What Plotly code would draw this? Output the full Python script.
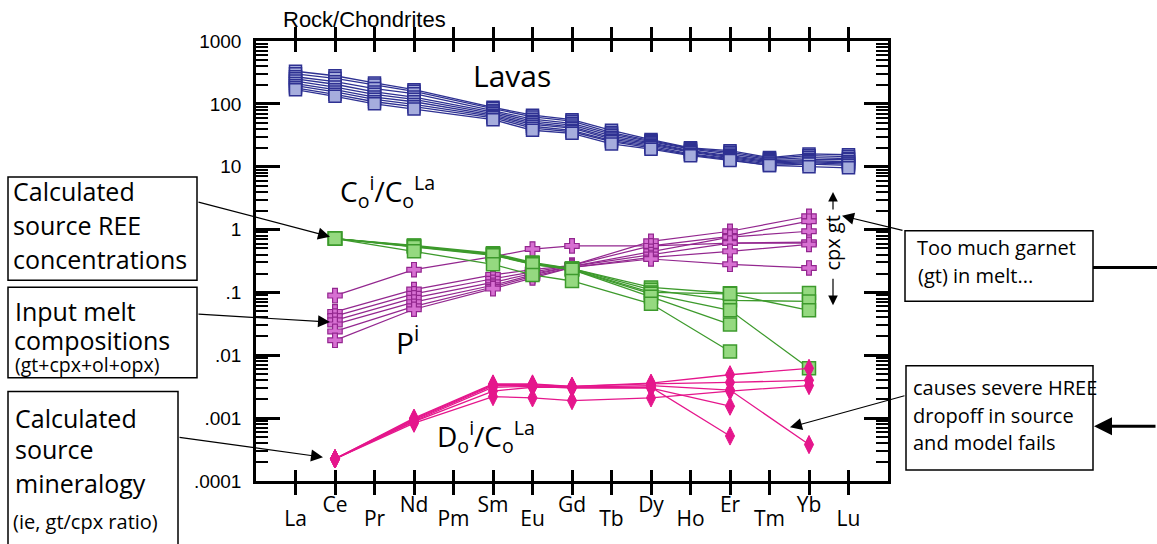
import plotly.graph_objects as go

# ---------------- data ----------------
REE = ["La", "Ce", "Pr", "Nd", "Pm", "Sm", "Eu", "Gd", "Tb", "Dy", "Ho", "Er", "Tm", "Yb", "Lu"]
LAVA_EL = ["La", "Ce", "Pr", "Nd", "Sm", "Eu", "Gd", "Tb", "Dy", "Ho", "Er", "Tm", "Yb", "Lu"]
MODEL_EL = ["Ce", "Nd", "Sm", "Eu", "Gd", "Dy", "Er", "Yb"]

lavas = [
    [330, 280, 215, 168, 88, 66, 56, 38, 27, 20, 18, 14, 16, 15.5],
    [300, 255, 200, 158, 84, 62, 53, 35, 26, 19.5, 17, 13.5, 15, 14.5],
    [270, 225, 175, 145, 78, 57, 49, 33, 25, 19, 16, 13, 14, 13.5],
    [250, 205, 155, 128, 74, 53, 46, 31, 24, 18, 15, 12.5, 13, 13],
    [230, 185, 142, 118, 70, 50, 43, 29, 23, 17.5, 14.5, 12, 12.5, 12],
    [210, 168, 128, 108, 66, 47, 41, 27.5, 22, 17, 14, 11.5, 12, 11.5],
    [195, 155, 118, 98, 63, 44, 38, 26, 21, 16, 13.5, 11, 11.5, 11],
    [180, 142, 108, 90, 60, 41, 36, 25, 20, 15.5, 13, 10.5, 11, 10.5],
    [168, 132, 100, 83, 56, 38, 34, 23, 19, 15, 12.5, 10.5, 10, 9.6],
]

source_conc = [  # C_o^i / C_o^La
    [0.72, 0.56, 0.42, 0.30, 0.24, 0.12, 0.097, 0.098],
    [0.72, 0.55, 0.41, 0.29, 0.24, 0.11, 0.075, 0.072],
    [0.72, 0.55, 0.40, 0.29, 0.235, 0.10, 0.095, 0.052],
    [0.72, 0.54, 0.40, 0.28, 0.23, 0.095, 0.052, 0.0062],
    [0.72, 0.53, 0.39, 0.28, 0.23, 0.085, 0.031, None],
    [0.72, 0.45, 0.28, 0.19, 0.152, 0.066, 0.0115, None],
]

melts = [  # P^i
    [0.089, 0.23, 0.37, 0.49, 0.55, 0.55, 0.61, 0.61],
    [0.049, 0.111, 0.19, 0.23, 0.27, 0.65, 0.94, 1.63],
    [0.042, 0.095, 0.165, 0.21, 0.27, 0.55, 0.78, 1.36],
    [0.036, 0.082, 0.145, 0.20, 0.26, 0.45, 0.76, 0.94],
    [0.031, 0.070, 0.13, 0.19, 0.26, 0.40, 0.61, 0.63],
    [0.024, 0.060, 0.122, 0.18, 0.25, 0.36, 0.45, 0.58],
    [0.0173, 0.054, 0.115, 0.17, 0.25, 0.34, 0.28, 0.245],
]

mineralogy = [  # D_o^i / C_o^La
    [0.000225, 0.00100, 0.0035, 0.0035, 0.0032, 0.0036, 0.0049, 0.0062],
    [0.000225, 0.00097, 0.0034, 0.0034, 0.0032, 0.0035, 0.0037, 0.0040],
    [0.000225, 0.00094, 0.0033, 0.0033, 0.0031, 0.0033, 0.0028, 0.00038],
    [0.000225, 0.00090, 0.0031, 0.0032, 0.0030, 0.0030, 0.00155, None],
    [0.000225, 0.00088, 0.0027, 0.0031, 0.0031, 0.0031, 0.00052, None],
    [0.000225, 0.00083, 0.0022, 0.0021, 0.0019, 0.0021, 0.0027, 0.0033],
]

Y_TICKS = [1e-4, 1e-3, 1e-2, 1e-1, 1, 10, 100, 1000]
Y_TICKTEXT = [".0001", ".001", ".01", ".1", "1", "10", "100", "1000"]
MINOR_DIGITS = [2, 3, 4, 5, 6, 7, 8, 9]

# ---------------- styling ----------------
W, H = 1157, 544
ML, MR, MT, MB = 256, 269, 41, 60
PW, PH = W - ML - MR, H - MT - MB
SANS = "Open Sans, Noto Sans, sans-serif"
HELV = "Liberation Sans, Arial, sans-serif"


def PX(px):
    return (px - ML) / PW


def PY(py):
    return (H - MB - py) / PH


def xs(elements):
    return [REE.index(e) for e in elements]


fig = go.Figure()

for vals in lavas:
    fig.add_trace(go.Scatter(
        x=xs(LAVA_EL), y=vals, mode="lines+markers",
        line=dict(color="#2e3192", width=1.3),
        marker=dict(symbol="square", size=12, color="#a6addd",
                    line=dict(color="#2e3192", width=1.5)),
        showlegend=False, hoverinfo="skip"))

for vals in melts:
    fig.add_trace(go.Scatter(
        x=xs(MODEL_EL), y=vals, mode="lines+markers",
        line=dict(color="#93278f", width=1.2),
        marker=dict(symbol="cross", size=12, color="#d770d2",
                    line=dict(color="#93278f", width=1.2)),
        showlegend=False, hoverinfo="skip"))

for vals in source_conc:
    fig.add_trace(go.Scatter(
        x=xs(MODEL_EL), y=vals, mode="lines+markers",
        line=dict(color="#3d9a2c", width=1.3),
        marker=dict(symbol="square", size=13, color="#95d980",
                    line=dict(color="#3d9a2c", width=1.5)),
        showlegend=False, hoverinfo="skip"))

for vals in mineralogy:
    fig.add_trace(go.Scatter(
        x=xs(MODEL_EL), y=vals, mode="lines+markers",
        line=dict(color="#e5168c", width=1.3),
        marker=dict(symbol="diamond-tall", size=13, color="#e5168c",
                    line=dict(color="#e5168c", width=1)),
        showlegend=False, hoverinfo="skip"))

# invisible traces so that the overlay axes render
fig.add_trace(go.Scatter(x=[None], y=[None], xaxis="x2", showlegend=False, hoverinfo="skip"))
fig.add_trace(go.Scatter(x=[None], y=[None], yaxis="y2", showlegend=False, hoverinfo="skip"))

odd_idx = [i for i in range(len(REE)) if i % 2 == 1]
minor_vals = [d * 10.0 ** e for e in range(-4, 3) for d in MINOR_DIGITS]

fig.update_layout(
    width=W, height=H,
    margin=dict(l=ML, r=MR, t=MT, b=MB),
    paper_bgcolor="white", plot_bgcolor="white",
    xaxis=dict(
        range=[-1, len(REE)], showgrid=False, zeroline=False,
        tickmode="array", tickvals=list(range(len(REE))),
        ticktext=[REE[i] if i % 2 == 0 else "" for i in range(len(REE))],
        ticks="inside", ticklen=11, tickwidth=2.5, tickcolor="black",
        showline=True, linewidth=2.5, linecolor="black", mirror="allticks",
        tickfont=dict(family=SANS, size=21, color="black"),
        ticklabelstandoff=17,
    ),
    xaxis2=dict(
        overlaying="x", anchor="y", side="bottom",
        range=[-1, len(REE)], showgrid=False, zeroline=False,
        tickmode="array", tickvals=odd_idx, ticktext=[REE[i] for i in odd_idx],
        ticks="", showline=False,
        tickfont=dict(family=SANS, size=21, color="black"),
        ticklabelstandoff=9,
    ),
    yaxis=dict(
        type="log", range=[-4, 3], showgrid=False, zeroline=False,
        tickmode="array", tickvals=Y_TICKS, ticktext=Y_TICKTEXT,
        ticks="inside", ticklen=24, tickwidth=2.5, tickcolor="black",
        showline=True, linewidth=2.5, linecolor="black", mirror="ticks",
        tickfont=dict(family=HELV, size=19, color="black"),
        ticklabelstandoff=8,
    ),
    yaxis2=dict(
        type="log", range=[-4, 3], overlaying="y", anchor="x", side="left",
        showgrid=False, zeroline=False,
        tickmode="array", tickvals=minor_vals, ticktext=["" for _ in minor_vals],
        ticks="inside", ticklen=12, tickwidth=2, tickcolor="black",
        showline=False, mirror="ticks", showticklabels=False,
    ),
)

ann = []
shapes = []


def text(px, baseline, s, size, family=SANS, xanchor="left", angle=0, asc=0.39):
    ann.append(dict(xref="paper", yref="paper", x=PX(px), y=PY(baseline - asc * size),
                    text=s, showarrow=False, xanchor=xanchor, yanchor="middle",
                    textangle=angle,
                    font=dict(family=family, size=size, color="black")))


def arrow(tail, head, width=1.2, size=2.0, headstyle=2):
    ann.append(dict(xref="paper", yref="paper", x=PX(head[0]), y=PY(head[1]),
                    ax=tail[0] - head[0], ay=tail[1] - head[1],
                    text="", showarrow=True, arrowhead=headstyle, arrowsize=size,
                    arrowwidth=width, arrowcolor="black", standoff=0, startstandoff=0))


def box(x0, y0, x1, y1):
    shapes.append(dict(type="rect", xref="paper", yref="paper",
                       x0=PX(x0), x1=PX(x1), y0=PY(y1), y1=PY(y0),
                       line=dict(color="black", width=1.5), fillcolor="rgba(0,0,0,0)"))


# axis title
text(281, 27, "Rock/Chondrites", 22, family=HELV, asc=0.35)

# series labels
text(471, 87, "Lavas", 30)
text(338, 203, "C<sub>o</sub><sup>i</sup>/C<sub>o</sub><sup>La</sup>", 28)
text(394, 355, "P<sup>i</sup>", 30)
text(435, 450, "D<sub>o</sub><sup>i</sup>/C<sub>o</sub><sup>La</sup>", 28)

# left boxes
box(8, 178, 197, 282)
text(11, 202, "Calculated", 25)
text(11, 236, "source REE", 25)
text(11, 270, "concentrations", 25)

box(8, 289, 197, 380)
text(13, 323, "Input melt", 25)
text(12, 352, "compositions", 25)
text(13, 374, "(gt+cpx+ol+opx)", 19.5)

box(8, 394, 178, 560)
text(13, 430, "Calculated", 25)
text(13, 462, "source", 25)
text(13, 496, "mineralogy", 25)
text(11, 533, "(ie, gt/cpx ratio)", 20)

# right boxes
box(905, 232, 1093, 303)
text(915, 257, "Too much garnet", 20)
text(916, 285, "(gt) in melt...", 20)

box(906, 368, 1093, 473)
text(911, 398, "causes severe HREE", 20)
text(911, 426, "dropoff in source", 20)
text(911, 453, "and model fails", 20)

# arrows
arrow((197, 203), (330, 238))
arrow((197, 316), (330, 324))
arrow((178, 440), (323, 460))
arrow((904, 232), (842, 217))
arrow((906, 398), (790, 430))
arrow((1160, 429), (1094, 429), width=3, size=1.2)
shapes.append(dict(type="line", xref="paper", yref="paper",
                   x0=PX(1093), x1=PX(1160), y0=PY(269), y1=PY(269),
                   line=dict(color="black", width=3)))

# cpx / gt direction
text(833, 245 + 0.39 * 20, "cpx gt", 20, xanchor="center", angle=-90)
arrow((833, 212), (833, 193), width=1.2, size=1.6)
arrow((833, 279), (833, 307), width=1.2, size=1.6)

fig.update_layout(annotations=ann, shapes=shapes)

fig.write_html("out.html")
